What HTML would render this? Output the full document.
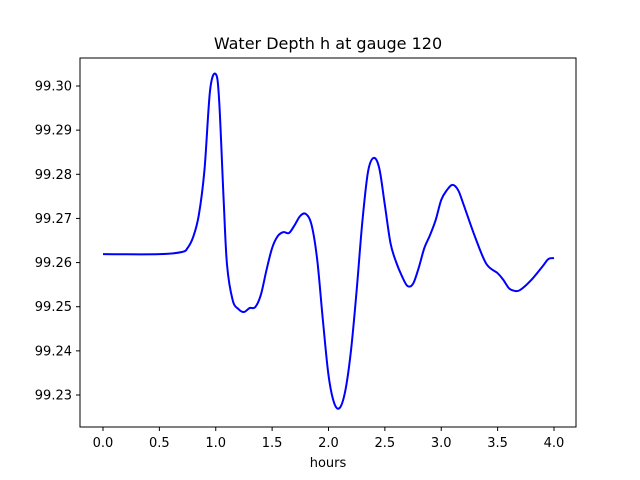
<!DOCTYPE html>
<html><head><meta charset="utf-8"><style>
body{margin:0;background:#fff}
svg{display:block;font-family:"DejaVu Sans","Liberation Sans",sans-serif}
</style></head><body>
<svg id="chart" width="640" height="480">
<rect width="640" height="480" fill="#fff"/>
<text x="328" y="49" text-anchor="middle" font-size="16">Water Depth h at gauge 120</text>
<text x="328" y="467" text-anchor="middle" font-size="13">hours</text>
<g id="ticks"></g>
<path id="line" fill="none" stroke="#0000ff" stroke-width="2" stroke-linejoin="round"/>
<rect x="80" y="58" width="496" height="369" fill="none" stroke="#000" stroke-width="1"/>
</svg>
<script>
const hours=[0,0.5,0.7,0.75,0.8,0.85,0.9,0.95,1.0,1.03,1.07,1.1,1.15,1.2,1.25,1.3,1.35,1.4,1.45,1.5,1.55,1.6,1.65,1.7,1.75,1.8,1.85,1.9,1.95,2.0,2.05,2.1,2.15,2.2,2.25,2.3,2.35,2.4,2.45,2.5,2.55,2.6,2.65,2.7,2.75,2.8,2.85,2.9,2.95,3.0,3.05,3.1,3.15,3.2,3.3,3.4,3.5,3.55,3.6,3.65,3.7,3.8,3.9,3.95,4.0];
const depth=[99.2619,99.2619,99.2624,99.2633,99.2658,99.2708,99.2810,99.2991,99.3027,99.2968,99.2742,99.2595,99.2515,99.2495,99.2488,99.2497,99.2499,99.2527,99.2583,99.2633,99.2660,99.2669,99.2667,99.2685,99.2706,99.2710,99.2685,99.2606,99.2470,99.2345,99.2282,99.2271,99.2311,99.2402,99.2538,99.2692,99.2805,99.2837,99.2814,99.2730,99.2644,99.2601,99.2570,99.2547,99.2552,99.2588,99.2633,99.2662,99.2696,99.2742,99.2764,99.2776,99.2764,99.2730,99.2658,99.2597,99.2576,99.2561,99.2542,99.2536,99.2538,99.2561,99.2592,99.2608,99.2610];
const xTicks=[0,0.5,1,1.5,2,2.5,3,3.5,4];
const xTickLabels=["0.0","0.5","1.0","1.5","2.0","2.5","3.0","3.5","4.0"];
const yTicks=[99.23,99.24,99.25,99.26,99.27,99.28,99.29,99.30];
const yTickLabels=["99.23","99.24","99.25","99.26","99.27","99.28","99.29","99.30"];
const sx=v=>103+v*112.75;
const sy=v=>86+(99.30-v)*4414.3;
const NS="http://www.w3.org/2000/svg";
const g=document.getElementById('ticks');
function mk(tag,attrs,txt){const e=document.createElementNS(NS,tag);for(const k in attrs)e.setAttribute(k,attrs[k]);if(txt!==undefined)e.textContent=txt;g.appendChild(e);return e;}
xTicks.forEach((t,i)=>{const x=sx(t);
 const l=mk('line',{x1:x,x2:x,y1:427,y2:431,stroke:'#000'});
 
 
 const tx=mk('text',{x:x,y:447,'text-anchor':'middle','font-size':13},xTickLabels[i]);
 
 
});
yTicks.forEach((t,i)=>{const y=sy(t);
 const l=mk('line',{x1:76,x2:80,y1:y,y2:y,stroke:'#000'});
 
 
 const tx=mk('text',{x:72,y:y+4.5,'text-anchor':'end','font-size':13},yTickLabels[i]);
 
 
});
const pts=hours.map((h,i)=>[sx(h),sy(depth[i])]);
let d='M'+pts[0][0]+','+pts[0][1];
for(let i=0;i<pts.length-1;i++){
 const p0=pts[Math.max(0,i-1)],p1=pts[i],p2=pts[i+1],p3=pts[Math.min(pts.length-1,i+2)];
 const c1=[p1[0]+(p2[0]-p0[0])/6,p1[1]+(p2[1]-p0[1])/6];
 const c2=[p2[0]-(p3[0]-p1[0])/6,p2[1]-(p3[1]-p1[1])/6];
 d+=' C'+c1+' '+c2+' '+p2;
}
document.getElementById('line').setAttribute('d',d);
</script>
</body></html>
